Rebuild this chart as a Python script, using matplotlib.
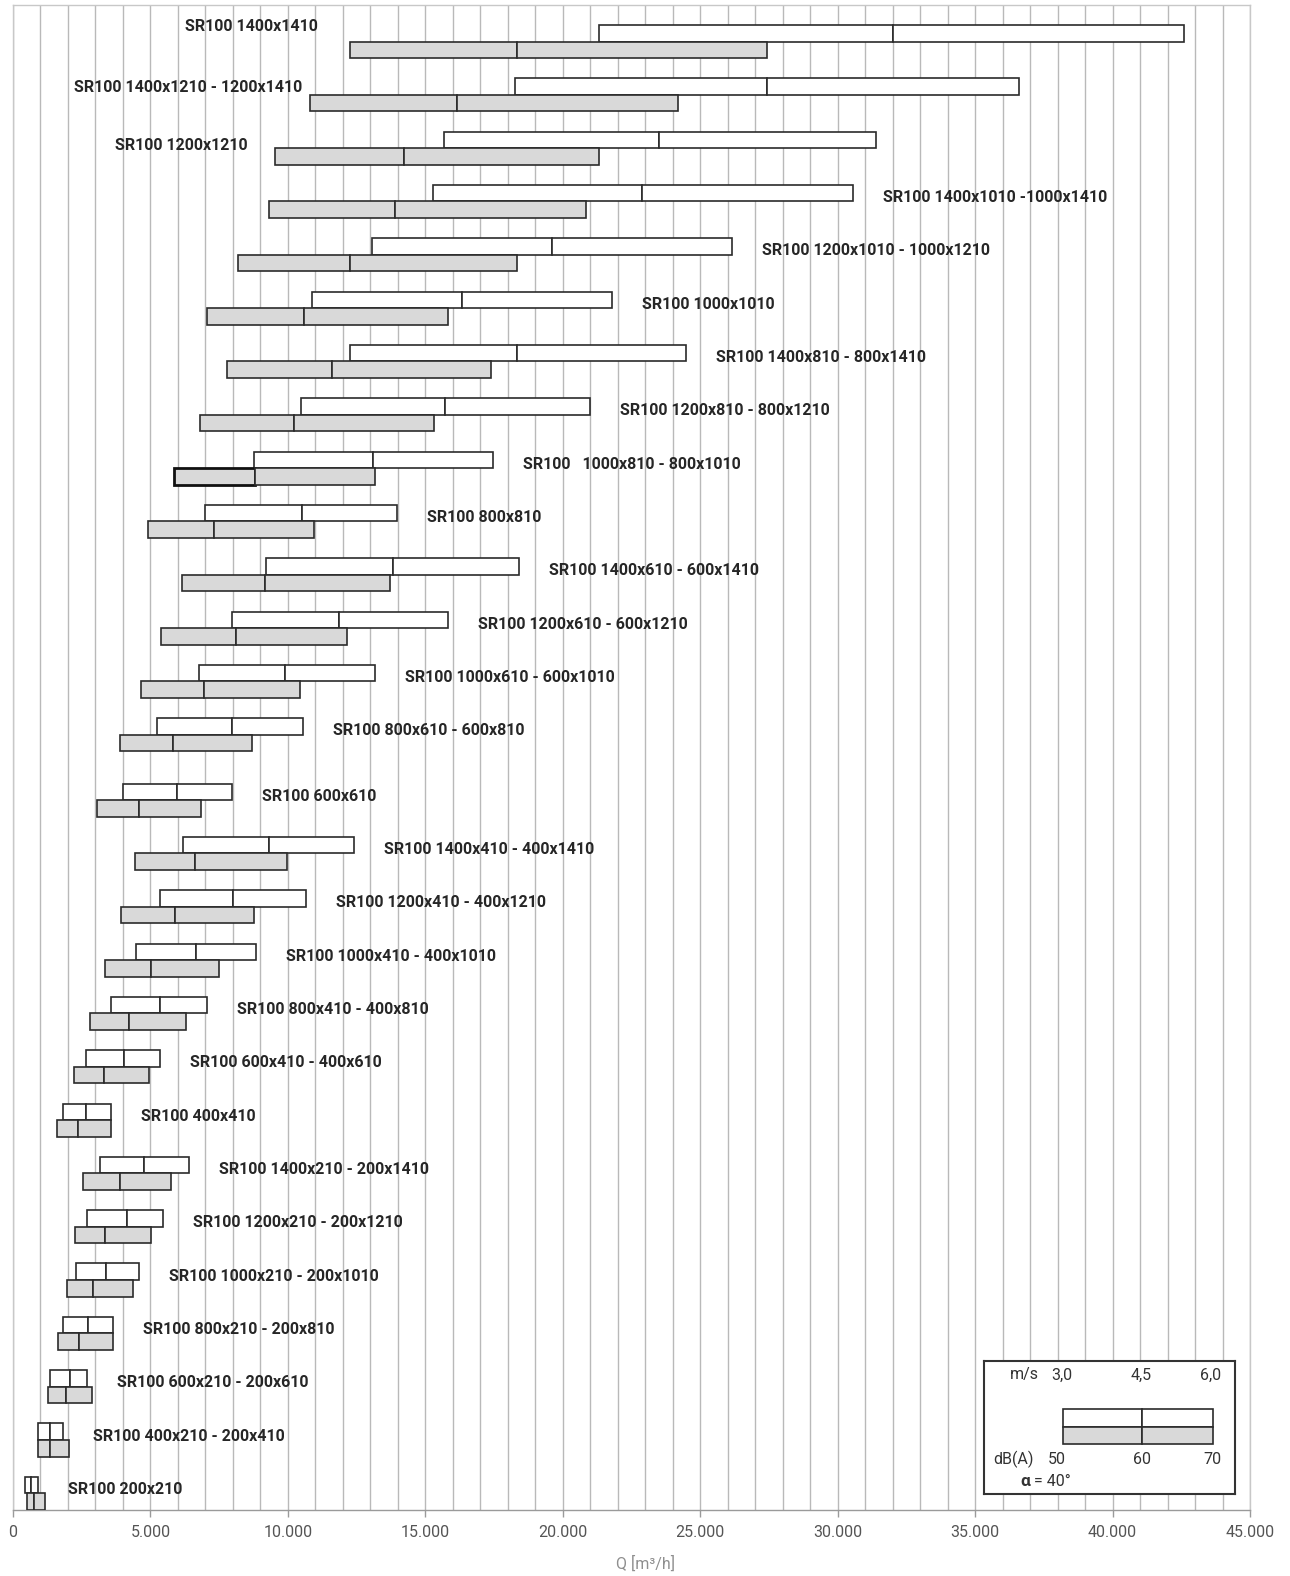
import matplotlib
matplotlib.use("Agg")
import matplotlib.pyplot as plt
from matplotlib.ticker import MultipleLocator, FuncFormatter
from matplotlib.patches import Rectangle

plt.rcParams['font.family'] = ['Roboto', 'DejaVu Sans']

# ---------------- data ----------------
labels = [
    "SR100 1400x1410",
    "SR100 1400x1210 - 1200x1410",
    "SR100 1200x1210",
    "SR100 1400x1010 -1000x1410",
    "SR100 1200x1010 - 1000x1210",
    "SR100 1000x1010",
    "SR100 1400x810 - 800x1410",
    "SR100 1200x810 - 800x1210",
    "SR100   1000x810 - 800x1010",
    "SR100 800x810",
    "SR100 1400x610 - 600x1410",
    "SR100 1200x610 - 600x1210",
    "SR100 1000x610 - 600x1010",
    "SR100 800x610 - 600x810",
    "SR100 600x610",
    "SR100 1400x410 - 400x1410",
    "SR100 1200x410 - 400x1210",
    "SR100 1000x410 - 400x1010",
    "SR100 800x410 - 400x810",
    "SR100 600x410 - 400x610",
    "SR100 400x410",
    "SR100 1400x210 - 200x1410",
    "SR100 1200x210 - 200x1210",
    "SR100 1000x210 - 200x1010",
    "SR100 800x210 - 200x810",
    "SR100 600x210 - 200x610",
    "SR100 400x210 - 200x410",
    "SR100 200x210",
]

# air flow Q [m3/h] at 3,0 / 4,5 / 6,0 m/s (white bars)
ms_30 = [21300, 18260, 15670, 15280, 13070, 10890, 12250, 10490, 8750, 6990,
         9220, 7950, 6750, 5240, 3990, 6200, 5340, 4480, 3570, 2670,
         1810, 3170, 2710, 2290, 1830, 1360, 900, 450]
ms_45 = [32000, 27420, 23500, 22890, 19600, 16330, 18340, 15710, 13100, 10500,
         13820, 11860, 9910, 7950, 5960, 9300, 8010, 6650, 5340, 4020,
         2670, 4760, 4130, 3400, 2720, 2080, 1360, 660]
ms_60 = [42600, 36580, 31380, 30560, 26150, 21800, 24470, 20990, 17460, 13970,
         18400, 15810, 13170, 10550, 7950, 12400, 10650, 8850, 7070, 5340,
         3560, 6410, 5460, 4600, 3640, 2710, 1820, 910]

# air flow Q [m3/h] at 50 / 60 / 70 dB(A) (grey bars)
db_50 = [12260, 10790, 9520, 9300, 8200, 7040, 7790, 6810, 5870, 4900,
         6140, 5370, 4640, 3900, 3040, 4440, 3920, 3360, 2800, 2220,
         1600, 2550, 2260, 1950, 1620, 1270, 900, 510]
db_60 = [18320, 16150, 14220, 13900, 12250, 10570, 11620, 10240, 8800, 7320,
         9180, 8130, 6950, 5820, 4580, 6620, 5880, 5020, 4220, 3310,
         2380, 3880, 3340, 2900, 2410, 1940, 1360, 760]
db_70 = [27440, 24200, 21310, 20850, 18350, 15830, 17380, 15320, 13160, 10960,
         13720, 12150, 10450, 8700, 6850, 9960, 8770, 7510, 6290, 4960,
         3550, 5740, 5030, 4380, 3620, 2870, 2040, 1150]

x_ticks_major = list(range(0, 45001, 5000))

# ---------------- layout ----------------
W, H, DPI = 1290, 1576, 100
fig = plt.figure(figsize=(W / DPI, H / DPI), dpi=DPI)

PITCH = 53.33                      # px per row
ax_left, ax_right, ax_top, ax_bot = 13, 1250, 5, 1510
ax = fig.add_axes([ax_left / W, (H - ax_bot) / H,
                   (ax_right - ax_left) / W, (ax_bot - ax_top) / H])

n = len(labels)
gap = 12 / PITCH
ypos = [i + (gap if i >= 14 else 0) for i in range(n)]   # boundary white/grey
bh = 16.6 / PITCH
top_margin = 36.5 / PITCH
bot_margin = (ax_bot - ax_top) / PITCH - top_margin - ypos[-1]
ax.set_ylim(ypos[-1] + bot_margin, -top_margin)
ax.set_xlim(0, 45000)

grid_c = '#b9b9b9'
ax.set_xticks(x_ticks_major)
ax.xaxis.set_minor_locator(MultipleLocator(1000))
ax.grid(True, which='both', axis='x', color=grid_c, lw=1.0, zorder=0)
ax.set_axisbelow(True)
ax.set_yticks([])
ax.xaxis.set_major_formatter(FuncFormatter(lambda v, p: f"{int(v):,}".replace(",", ".")))
ax.tick_params(axis='x', which='major', length=5, width=1, color='#9a9a9a',
               labelsize=11.5, labelcolor='#555555', pad=6)
ax.tick_params(axis='x', which='minor', length=0)
for s in ['top', 'right', 'left']:
    ax.spines[s].set_color('#c8c8c8')
    ax.spines[s].set_linewidth(1.0)
ax.spines['bottom'].set_color('#9a9a9a')
ax.spines['bottom'].set_linewidth(1.0)

edge = '#2b2b2b'
grey = '#d9d9d9'
for i in range(n):
    yw = ypos[i] - bh / 2
    yg = ypos[i] + bh / 2
    ax.barh(yw, ms_45[i] - ms_30[i], left=ms_30[i], height=bh, color='white',
            edgecolor=edge, lw=1.2, zorder=3)
    ax.barh(yw, ms_60[i] - ms_45[i], left=ms_45[i], height=bh, color='white',
            edgecolor=edge, lw=1.2, zorder=3)
    lw_first = 2.0 if i == 8 else 1.2
    ax.barh(yg, db_60[i] - db_50[i], left=db_50[i], height=bh, color=grey,
            edgecolor='#111111' if i == 8 else edge, lw=lw_first, zorder=3)
    ax.barh(yg, db_70[i] - db_60[i], left=db_60[i], height=bh, color=grey,
            edgecolor=edge, lw=1.2, zorder=3)

# labels
px2pt = 72 / DPI
lab_kw = dict(fontsize=11.5, fontweight='bold', color='#262626', zorder=5)
for i, lab in enumerate(labels):
    if i < 3:
        off_x = [-32, -7, -27][i]
        off_y = [-15, -7, -3][i]
        ax.annotate(lab, xy=(db_50[i], ypos[i]), xytext=(off_x * px2pt, -off_y * px2pt),
                    textcoords='offset points', ha='right', va='center', **lab_kw)
    else:
        ax.annotate(lab, xy=(ms_60[i], ypos[i]), xytext=(30 * px2pt, 4 * px2pt),
                    textcoords='offset points', ha='left', va='center', **lab_kw)

fig.text(0.5, 1 - 1564 / H, "Q [m³/h]", ha='center', va='center',
         fontsize=11.5, color='#8f8f8f')

# legend box (pixel based inset)
bx0, bx1, by0, by1 = 984, 1235, 1361, 1494
lax = fig.add_axes([bx0 / W, (H - by1) / H, (bx1 - bx0) / W, (by1 - by0) / H])
lax.set_xlim(bx0, bx1)
lax.set_ylim(by1, by0)
lax.set_xticks([]); lax.set_yticks([])
lax.set_facecolor('white')
for s in lax.spines.values():
    s.set_color('#333333'); s.set_linewidth(1.5)
tc = '#333333'
fs = 11.5
lax.text(1010, 1375, "m/s", ha='left', va='center', fontsize=fs, color=tc)
lax.text(1051, 1375, "3,0", ha='left', va='center', fontsize=fs, color=tc)
lax.text(1141, 1375, "4,5", ha='center', va='center', fontsize=fs, color=tc)
lax.text(1221, 1375, "6,0", ha='right', va='center', fontsize=fs, color=tc)
lax.add_patch(Rectangle((1063, 1409), 79, 18, fc='white', ec=edge, lw=1.2))
lax.add_patch(Rectangle((1142, 1409), 71, 18, fc='white', ec=edge, lw=1.2))
lax.add_patch(Rectangle((1063, 1427), 79, 17, fc=grey, ec=edge, lw=1.2))
lax.add_patch(Rectangle((1142, 1427), 71, 17, fc=grey, ec=edge, lw=1.2))
lax.text(993, 1459, "dB(A)", ha='left', va='center', fontsize=fs, color=tc)
lax.text(1048, 1459, "50", ha='left', va='center', fontsize=fs, color=tc)
lax.text(1142, 1459, "60", ha='center', va='center', fontsize=fs, color=tc)
lax.text(1221, 1459, "70", ha='right', va='center', fontsize=fs, color=tc)
lax.text(1020, 1481, "α", ha='left', va='center', fontsize=fs + 1, color=tc,
         fontweight='bold')
lax.text(1034, 1481, "= 40°", ha='left', va='center', fontsize=fs, color=tc)

fig.savefig("out.png", dpi=DPI, facecolor='white')
